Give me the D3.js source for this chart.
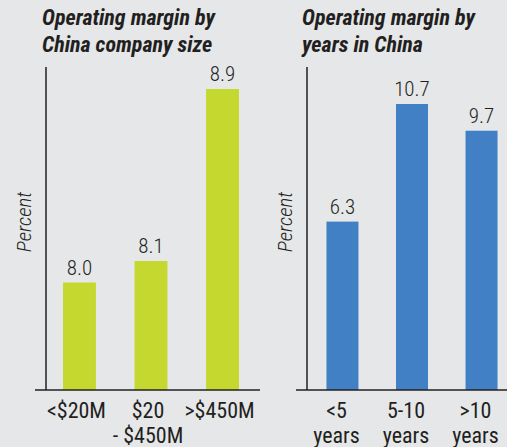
<!DOCTYPE html>
<html>
<head>
<meta charset="utf-8">
<script src="https://cdn.jsdelivr.net/npm/d3@7"></script>
<style>
    body { margin: 0; background: #e6e7e9; }
    svg { display: block; }
    text { font-family: "Liberation Sans Narrow", "Roboto Condensed", "DejaVu Sans Condensed", sans-serif; fill: #231f20; }
</style>
</head>
<body>
<div id="chart"></div>
<script>

// Operating margin by China company size
const sizeCategories = [['<$20M'], ['$20', '- $450M'], ['>$450M']];
const sizeValues = [8.0, 8.1, 8.9];

// Operating margin by years in China
const yearCategories = [['<5', 'years'], ['5-10', 'years'], ['>10', 'years']];
const yearValues = [6.3, 10.7, 9.7];

const width = 507;
const height = 447;
const baseY = 390;     // baseline of both panels

const svg = d3.select('#chart')
    .append('svg')
    .attr('width', width)
    .attr('height', height);

svg.append('rect')
    .attr('width', width)
    .attr('height', height)
    .attr('fill', '#e6e7e9');

function drawPanel(opts) {
    const g = svg.append('g');
    const keys = opts.categories.map((c, i) => i);

    const x = d3.scaleBand()
        .domain(keys)
        .range([opts.axisX, opts.axisX + 210])
        .paddingInner(0.54)
        .paddingOuter(opts.outer);

    const y = d3.scaleLinear()
        .domain(opts.domain)
        .range([baseY, opts.topY]);

    // title, two lines
    g.append('text')
        .attr('x', opts.titleX)
        .attr('y', 25)
        .attr('font-size', '22px')
        .attr('font-weight', 'bold')
        .attr('font-style', 'italic')
        .selectAll('tspan')
        .data(opts.title)
        .enter()
        .append('tspan')
            .attr('x', opts.titleX)
            .attr('dy', (d, i) => i == 0 ? 0 : 27)
            .text(d => d);

    // bars
    g.selectAll('rect.bar')
        .data(opts.values)
        .enter()
        .append('rect')
            .attr('class', 'bar')
            .attr('x', (d, i) => x(i))
            .attr('y', d => y(d))
            .attr('width', x.bandwidth())
            .attr('height', d => baseY - y(d))
            .attr('fill', opts.color);

    // value labels
    g.selectAll('text.value')
        .data(opts.values)
        .enter()
        .append('text')
            .attr('class', 'value')
            .attr('x', (d, i) => x(i) + x.bandwidth() / 2)
            .attr('y', d => y(d) - 8)
            .attr('text-anchor', 'middle')
            .attr('font-size', '21px')
            .attr('font-weight', 300)
            .text(d => d.toFixed(1));

    // y axis line (no ticks)
    g.append('line')
        .attr('x1', opts.axisX)
        .attr('x2', opts.axisX)
        .attr('y1', 67)
        .attr('y2', baseY)
        .attr('stroke', '#231f20')
        .attr('stroke-width', 1.5);

    // baseline
    g.append('line')
        .attr('x1', opts.axisX - 11)
        .attr('x2', opts.axisX + 214)
        .attr('y1', baseY)
        .attr('y2', baseY)
        .attr('stroke', '#231f20')
        .attr('stroke-width', 1.5);

    // category labels
    g.selectAll('text.cat')
        .data(opts.categories)
        .enter()
        .append('text')
            .attr('class', 'cat')
            .attr('text-anchor', 'middle')
            .attr('font-size', '22px')
            .attr('transform', (d, i) => `translate(${x(i) + x.bandwidth() / 2 + opts.labelShift},418)`)
            .selectAll('tspan')
            .data(d => d)
            .enter()
            .append('tspan')
                .attr('x', 0)
                .attr('dy', (d, i) => i == 0 ? 0 : 25)
                .text(d => d);

    // Percent label
    g.append('text')
        .attr('transform', `translate(${opts.axisX - 15},222) rotate(-90)`)
        .attr('text-anchor', 'middle')
        .attr('font-size', '21px')
        .attr('font-weight', 300)
        .attr('font-style', 'italic')
        .text('Percent');
}

drawPanel({
    title: ['Operating margin by', 'China company size'],
    titleX: 42,
    categories: sizeCategories,
    values: sizeValues,
    domain: [7.5, 8.9],
    topY: 89,
    axisX: 46,
    outer: 0.238,
    labelShift: -3,
    color: '#c5d82f'
});

drawPanel({
    title: ['Operating margin by', 'years in China'],
    titleX: 302,
    categories: yearCategories,
    values: yearValues,
    domain: [0, 10.7],
    topY: 104,
    axisX: 307,
    outer: 0.28,
    labelShift: -6,
    color: '#4180c5'
});

</script>
</body>
</html>
